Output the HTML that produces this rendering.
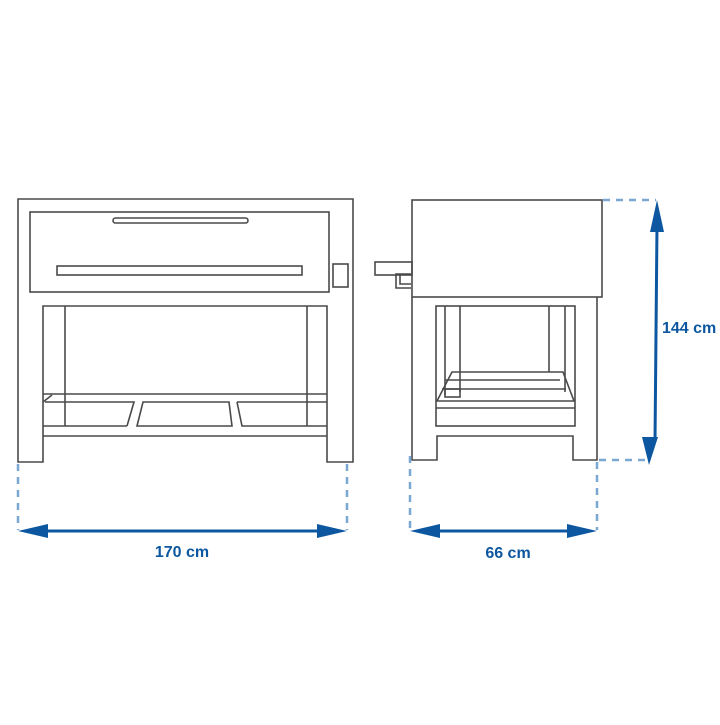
<!DOCTYPE html>
<html><head><meta charset="utf-8"><style>
html,body{margin:0;padding:0;background:#fff;}
</style></head><body>
<svg width="720" height="720" viewBox="0 0 720 720" xmlns="http://www.w3.org/2000/svg">
<g fill="none" stroke="#4a4a4a" stroke-width="1.6">
<path d="M18 462 V199 H353 V462 H327 V306 H43 V462 Z"/>
<rect x="30" y="212" width="299" height="80"/>
<rect x="113" y="218" width="135" height="5" rx="2.5"/>
<rect x="57" y="266" width="245" height="9"/>
<rect x="333" y="264" width="15" height="23"/>
<line x1="65" y1="306" x2="65" y2="426"/>
<line x1="307" y1="306" x2="307" y2="426"/>
<line x1="43" y1="394" x2="327" y2="394"/>
<line x1="43" y1="402" x2="52" y2="395"/>
<path d="M45 402 H134 L127 426"/>
<path d="M143 402 H229 L232 426 H137 Z"/>
<path d="M237 402 H327 M327 426 H242 L237 402"/>
<line x1="43" y1="426" x2="127" y2="426"/>
<line x1="43" y1="436" x2="327" y2="436"/>
<rect x="412" y="200" width="190" height="97"/>
<path d="M412 297 V460 H437 V436 H573 V460 H597 V297"/>
<rect x="375" y="262" width="37" height="13"/>
<path d="M411 274 H396 V288 H411 M400 274 V284 H411"/>
<rect x="436" y="306" width="139" height="120"/>
<line x1="445" y1="306" x2="445" y2="395"/>
<line x1="460" y1="306" x2="460" y2="392"/>
<line x1="549" y1="306" x2="549" y2="372"/>
<line x1="565" y1="306" x2="565" y2="392"/>
<path d="M452 372 H563 L574 401 H437 Z"/>
<path d="M445 380 H560 M442 389 H566"/>
<rect x="445" y="389" width="15" height="8"/>
<line x1="436" y1="408" x2="575" y2="408"/>
</g>
<g stroke="#7ba7d3" stroke-width="2.5" stroke-dasharray="7,6" fill="none">
<line x1="18" y1="464" x2="18" y2="530"/>
<line x1="347" y1="464" x2="347" y2="530"/>
<line x1="410" y1="456" x2="410" y2="530"/>
<line x1="597" y1="462" x2="597" y2="530"/>
<line x1="603" y1="200" x2="656" y2="200"/>
<line x1="599" y1="460" x2="650" y2="460"/>
</g>
<g fill="#0d57a0" stroke="#0d57a0">
<line x1="40" y1="531" x2="325" y2="531" stroke-width="3"/>
<polygon points="18,531 48,524 48,538" stroke="none"/>
<polygon points="347,531 317,524 317,538" stroke="none"/>
<line x1="432" y1="531" x2="575" y2="531" stroke-width="3"/>
<polygon points="410,531 440,524 440,538" stroke="none"/>
<polygon points="597,531 567,524 567,538" stroke="none"/>
<line x1="657" y1="225" x2="655" y2="442" stroke-width="3"/>
<polygon points="657,200 650,232 664,232" stroke="none"/>
<polygon points="649,465 642,437 658,437" stroke="none"/>
</g>
<g fill="#0d57a0" font-family="Liberation Sans, sans-serif" font-weight="bold" font-size="16">
<text x="182" y="557" text-anchor="middle">170 cm</text>
<text x="508" y="558" text-anchor="middle">66 cm</text>
<text x="662" y="333">144 cm</text>
</g>
</svg>
</body></html>
